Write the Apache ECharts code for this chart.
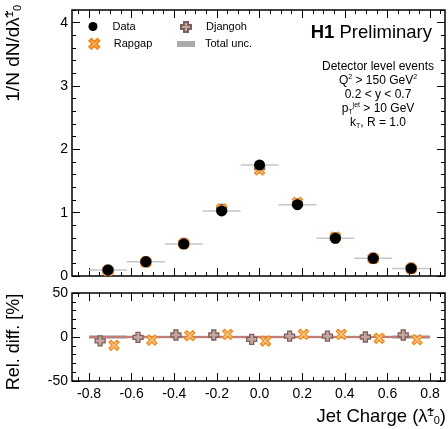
<!DOCTYPE html>
<html><head><meta charset="utf-8">
<script src="https://cdn.jsdelivr.net/npm/echarts@6/dist/echarts.min.js"></script>
<style>html,body{margin:0;padding:0;background:#fff}#c{width:448px;height:429px}</style>
</head><body><div id="c"></div>
<script>
// ---- data ----
const binEdges = [-0.8, -0.6222, -0.4444, -0.2667, -0.0889, 0.0889, 0.2667, 0.4444, 0.6222, 0.8];
const dataValues    = [0.095, 0.226, 0.505, 1.027, 1.753, 1.126, 0.596, 0.280, 0.120];
const rapgapValues  = [0.086, 0.218, 0.512, 1.058, 1.675, 1.160, 0.614, 0.276, 0.116];
const djangohValues = [0.091, 0.225, 0.516, 1.050, 1.710, 1.137, 0.602, 0.280, 0.123];
const rapgapRelDiff  = [-9.5, -3.5, 1.5, 3.0, -4.5, 3.0, 3.0, -1.5, -3.0];
const djangohRelDiff = [-4.5, -0.5, 2.3, 2.3, -2.6, 1.0, 1.0, 0.0, 2.3];
const totalUnc = [2.0, 1.5, 1.5, 1.5, 1.5, 1.5, 1.5, 1.5, 2.0];
const xTickLabels = [-0.8, -0.6, -0.4, -0.2, 0.0, 0.2, 0.4, 0.6, 0.8];
const yTicksTop = [0, 1, 2, 3, 4];
const yTicksRel = [-50, 0, 50];

const FONT = 'Liberation Sans';
const centers = binEdges.slice(0, -1).map((e, i) => (e + binEdges[i + 1]) / 2);
const X_MIN = -0.88, X_MAX = 0.87;

function range(a, b, step) { const r = []; for (let v = a; v <= b + 1e-9; v += step) r.push(+v.toFixed(4)); return r; }
const xMinor = range(-0.85, 0.85, 0.05);
const yMinorTop = range(0, 4.2, 0.2);
const yMinorRel = range(-50, 50, 10);

function axisSet(kind, gridIndex, major, minor, min, max, labelFmt) {
  const pos = kind === 'x' ? ['bottom', 'top'] : ['left', 'right'];
  const out = [];
  pos.forEach((p, k) => {
    [major, minor].forEach((vals, j) => {
      const showLbl = k === 0 && j === 0 && !!labelFmt;
      out.push({
        gridIndex, type: 'value', min, max, position: p,
        axisLine: { show: false, onZero: false }, splitLine: { show: false },
        axisTick: { show: true, inside: true, length: j === 0 ? 8 : 4, customValues: vals,
                    lineStyle: { color: '#000', width: 1 } },
        axisLabel: showLbl ? { show: true, customValues: major, formatter: labelFmt,
                    fontFamily: FONT, fontSize: 14, color: '#000', margin: kind === 'x' ? 6 : 4 }
                  : { show: false }
      });
    });
  });
  return out;
}

const xAxes = [].concat(
  axisSet('x', 0, xTickLabels, xMinor, X_MIN, X_MAX, null),
  axisSet('x', 1, xTickLabels, xMinor, X_MIN, X_MAX, v => v.toFixed(1))
);
const yAxes = [].concat(
  axisSet('y', 0, yTicksTop, yMinorTop, 0, 4.2, v => String(v)),
  axisSet('y', 1, yTicksRel, yMinorRel, -50, 50, v => String(v))
);

const plusPath = 'path://M3,0H7V3H10V7H7V10H3V7H0V3H3Z';
const xPath = 'path://M2,0L5,3L8,0L10,2L7,5L10,8L8,10L5,7L2,10L0,8L3,5L0,2Z';
const djStyle = { color: '#c4a6a0', borderColor: '#7f5f5a', borderWidth: 1.3, opacity: 1 };
const rgStyle = { color: '#f9c27e', borderColor: '#f08a1e', borderWidth: 1.3, opacity: 1 };

const series = [
  { type: 'custom', name: 'xerr', xAxisIndex: 0, yAxisIndex: 0, z: 2, silent: true,
    data: dataValues.map((v, i) => [binEdges[i], binEdges[i + 1], v]),
    encode: { x: [0, 1], y: 2 },
    renderItem: (params, api) => {
      const a = api.coord([api.value(0), api.value(2)]);
      const b = api.coord([api.value(1), api.value(2)]);
      return { type: 'line', shape: { x1: a[0], y1: a[1], x2: b[0], y2: b[1] },
               style: { stroke: '#c6c6c6', lineWidth: 1.5 } };
    } },
  { type: 'scatter', name: 'Djangoh', xAxisIndex: 0, yAxisIndex: 0, z: 3,
    symbol: plusPath, symbolSize: 10, itemStyle: djStyle,
    data: djangohValues.map((v, i) => [centers[i], v]) },
  { type: 'scatter', name: 'Rapgap', xAxisIndex: 0, yAxisIndex: 0, z: 4,
    symbol: xPath, symbolSize: 10, itemStyle: rgStyle,
    data: rapgapValues.map((v, i) => [centers[i], v]) },
  { type: 'scatter', name: 'Data', xAxisIndex: 0, yAxisIndex: 0, z: 5,
    symbol: 'circle', symbolSize: 11, itemStyle: { color: '#000', opacity: 1 },
    data: dataValues.map((v, i) => [centers[i], v]) },
  // ratio panel
  { type: 'custom', name: 'Total unc.', xAxisIndex: 4, yAxisIndex: 4, z: 2,
    itemStyle: { color: '#aaaaaa' },
    data: totalUnc.map((u, i) => [binEdges[i], binEdges[i + 1], -u, u]),
    encode: { x: [0, 1], y: [2, 3] },
    renderItem: (params, api) => {
      const a = api.coord([api.value(0), api.value(3)]);
      const b = api.coord([api.value(1), api.value(2)]);
      return { type: 'rect', shape: { x: a[0], y: a[1], width: b[0] - a[0], height: b[1] - a[1] },
               style: { fill: '#b4b4b4' } };
    } },
  { type: 'line', name: 'ref', xAxisIndex: 4, yAxisIndex: 4, z: 3, showSymbol: false, silent: true,
    lineStyle: { color: '#d0473d', width: 1.2 }, data: [[binEdges[0], 0], [binEdges[binEdges.length - 1], 0]] },
  { type: 'scatter', name: 'Djangoh', xAxisIndex: 4, yAxisIndex: 4, z: 4,
    symbol: plusPath, symbolSize: 10, itemStyle: djStyle,
    data: djangohRelDiff.map((v, i) => [centers[i] - 0.037, v]) },
  { type: 'scatter', name: 'Rapgap', xAxisIndex: 4, yAxisIndex: 4, z: 5,
    symbol: xPath, symbolSize: 10, itemStyle: rgStyle,
    data: rapgapRelDiff.map((v, i) => [centers[i] + 0.028, v]) }
];

function leg(name, left, top, w, h, pad, icon) {
  const item = { name };
  if (icon) item.icon = icon;
  return { data: [item], left, top, itemWidth: w, itemHeight: h, selectedMode: false, padding: 0,
           textStyle: { fontFamily: FONT, fontSize: 11, color: '#000', padding: [0, 0, 0, pad] } };
}

const option = {
  animation: false,
  backgroundColor: '#fff',
  grid: [
    { left: 72, right: 3, top: 10, height: 266, show: true, borderColor: '#000', borderWidth: 1.5 },
    { left: 72, right: 3, top: 293, height: 88, show: true, borderColor: '#000', borderWidth: 1.5 }
  ],
  xAxis: xAxes,
  yAxis: yAxes,
  legend: [
    leg('Data', 88.5, 21, 9, 9, 10, 'circle'),
    leg('Djangoh', 180, 21, 10, 10, 10),
    leg('Rapgap', 88.3, 37.8, 10, 10, 9.5),
    leg('Total unc.', 177, 38.5, 18, 6, 5, 'rect')
  ],
  series,
  graphic: [
    { type: 'text', right: 16, top: 23,
      style: { text: '{b|H1} Preliminary', fontFamily: FONT, fontSize: 18.5, fill: '#000',
               rich: { b: { fontFamily: FONT, fontSize: 18.5, fontWeight: 'bold' } } } },
    { type: 'text', x: 378, y: 60,
      style: { text: 'Detector level events\nQ{sup|2} > 150 GeV{sup|2}\n0.2 < y < 0.7\np{sub|T}{sup|jet} > 10 GeV\nk{sub|T}, R = 1.0',
               align: 'center', fontFamily: FONT, fontSize: 12, lineHeight: 14, fill: '#000',
               rich: { sup: { fontFamily: FONT, fontSize: 7, verticalAlign: 'top', lineHeight: 10 },
                       sub: { fontFamily: FONT, fontSize: 7, verticalAlign: 'bottom', lineHeight: 8 } } } },
    { type: 'text', x: 14, y: 5, rotation: Math.PI / 2,
      style: { text: '1/N dN/dλ̃{sup|1}{sub|0}', align: 'right', verticalAlign: 'middle',
               fontFamily: FONT, fontSize: 19, fill: '#000',
               rich: { sup: { fontFamily: FONT, fontSize: 11, verticalAlign: 'top' },
                       sub: { fontFamily: FONT, fontSize: 11, verticalAlign: 'bottom' } } } },
    { type: 'text', x: 14, y: 342, rotation: Math.PI / 2,
      style: { text: 'Rel. diff. [%]', align: 'center', verticalAlign: 'middle',
               fontFamily: FONT, fontSize: 18, fill: '#000' } },
    { type: 'text', right: 2, top: 407,
      style: { text: 'Jet Charge (λ̃{sup|1}{sub|0})', fontFamily: FONT, fontSize: 18.5, fill: '#000',
               rich: { sup: { fontFamily: FONT, fontSize: 11, verticalAlign: 'top' },
                       sub: { fontFamily: FONT, fontSize: 11, verticalAlign: 'bottom' } } } }
  ]
};
const chart = echarts.init(document.getElementById('c'));
chart.setOption(option);
</script></body></html>
